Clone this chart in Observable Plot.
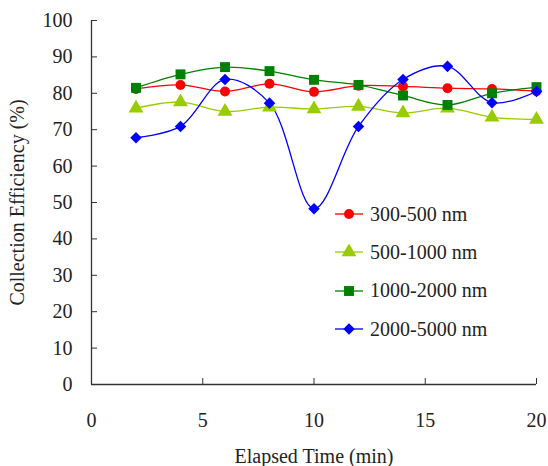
<!DOCTYPE html>
<html><head><meta charset="utf-8">
<script src="https://cdn.jsdelivr.net/npm/d3@7"></script>
<script src="https://cdn.jsdelivr.net/npm/@observablehq/plot@0.6"></script>
<style>
body{margin:0;background:#fff}
#wrap{position:relative;width:548px;height:466px;font-family:"Liberation Serif","Times New Roman",serif}
#legend{position:absolute;left:333px;top:195px}
.row{display:flex;align-items:center;height:38.3px;font-size:20px;color:#222;white-space:nowrap}
.row svg{margin-right:5px}
</style>
</head><body>
<div id="wrap"></div>
<script>
const times = [2, 4, 6, 8, 10, 12, 14, 16, 18, 20];
const seriesNames = ["300-500 nm", "500-1000 nm", "1000-2000 nm", "2000-5000 nm"];
const s300_500   = [81.2, 82.3, 80.5, 82.6, 80.4, 82.1, 81.9, 81.4, 81.2, 80.6];
const s500_1000  = [75.9, 77.6, 75.0, 76.2, 75.7, 76.4, 74.6, 75.9, 73.4, 72.8];
const s1000_2000 = [81.5, 85.2, 87.2, 86.1, 83.7, 82.3, 79.4, 76.8, 80.0, 81.7];
const s2000_5000 = [67.8, 70.9, 83.8, 77.3, 48.3, 70.9, 83.8, 87.4, 77.4, 80.5];
const colors = ["#ff0000", "#99cc00", "#008000", "#0000ff"];
const symbols = ["circle", "triangle", "square", "diamond2"];
const radii = [5, 5.5, 5.6, 5.2];
const xTicks = [0, 5, 10, 15, 20];
const yTicks = [0, 10, 20, 30, 40, 50, 60, 70, 80, 90, 100];

const allSeries = [s300_500, s500_1000, s1000_2000, s2000_5000];
const table = [];
allSeries.forEach((vals, i) => vals.forEach((v, j) => table.push({series: seriesNames[i], time: times[j], value: v, idx: i})));

const marks = [];
seriesNames.forEach((name, i) => {
  const d = table.filter(r => r.idx === i);
  marks.push(Plot.line(d, {x: "time", y: "value", stroke: colors[i], strokeWidth: 1.3, curve: "catmull-rom"}));
});
seriesNames.forEach((name, i) => {
  const d = table.filter(r => r.idx === i);
  marks.push(Plot.dot(d, {x: "time", y: "value", fill: colors[i], stroke: "none", symbol: symbols[i], r: radii[i]}));
});

const chart = Plot.plot({
  width: 548, height: 466,
  marginLeft: 91, marginRight: 12, marginTop: 20, marginBottom: 82,
  style: {fontFamily: "Liberation Serif, Times New Roman, serif", fontSize: "20px", color: "#222", background: "#fff"},
  x: {domain: [0, 20]},
  y: {domain: [0, 100]},
  marks: [
    Plot.axisY({ticks: yTicks, tickSize: -6, tickPadding: 25, label: "Collection Efficiency (%)", labelArrow: "none", labelAnchor: "center", labelOffset: 82, fontSize: 20, stroke: "#333"}),
    Plot.axisX({ticks: xTicks, tickSize: -6, tickPadding: 34, label: "Elapsed Time (min)", labelArrow: "none", labelAnchor: "center", labelOffset: 78, fontSize: 20, stroke: "#333"}),
    Plot.ruleX([0], {stroke: "#333", strokeWidth: 1.3}),
    Plot.ruleY([0], {stroke: "#333", strokeWidth: 1.3}),
    ...marks
  ]
});
const wrap = document.getElementById("wrap");
wrap.appendChild(chart);

const legend = document.createElement("div");
legend.id = "legend";
seriesNames.forEach((name, i) => {
  const row = document.createElement("div");
  row.className = "row";
  const sym = {circle: d3.symbolCircle, triangle: d3.symbolTriangle, square: d3.symbolSquare, diamond2: d3.symbolDiamond2}[symbols[i]];
  const path = d3.symbol(sym, radii[i] * radii[i] * Math.PI)();
  row.innerHTML = `<svg width="32" height="16"><line x1="2" x2="30" y1="8" y2="8" stroke="${colors[i]}" stroke-width="1.3"/><path d="${path}" transform="translate(16,8)" fill="${colors[i]}"/></svg><span>${name}</span>`;
  legend.appendChild(row);
});
wrap.appendChild(legend);
</script>
</body></html>
